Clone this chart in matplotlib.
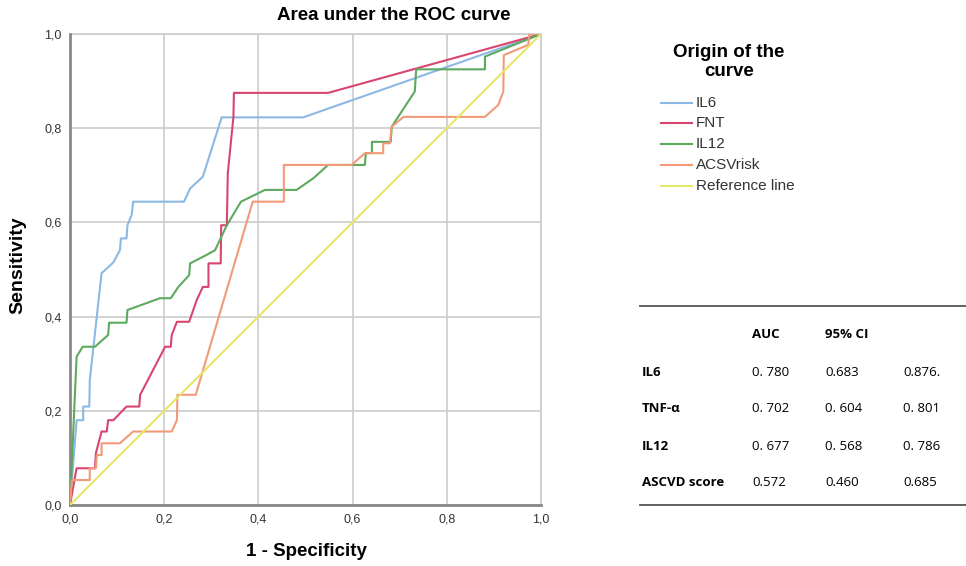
import matplotlib
matplotlib.use("Agg")
import matplotlib.pyplot as plt
from matplotlib.lines import Line2D

plt.rcParams['font.family'] = ['Liberation Sans', 'DejaVu Sans']

# ROC curves (1 - specificity, sensitivity)
il6_x = [0, 0.014, 0.028, 0.028, 0.041, 0.042, 0.067, 0.092, 0.106, 0.108, 0.12, 0.122,
         0.131, 0.134, 0.242, 0.255, 0.282, 0.322, 0.495, 1.0]
il6_y = [0, 0.18, 0.18, 0.209, 0.209, 0.265, 0.492, 0.515, 0.541, 0.566, 0.566, 0.594,
         0.616, 0.644, 0.644, 0.672, 0.697, 0.823, 0.823, 1.0]

fnt_x = [0, 0.014, 0.053, 0.055, 0.067, 0.078, 0.081, 0.092, 0.12, 0.147, 0.149, 0.202,
         0.214, 0.216, 0.227, 0.253, 0.269, 0.282, 0.294, 0.294, 0.32, 0.321, 0.333,
         0.335, 0.347, 0.348, 0.548, 1.0]
fnt_y = [0, 0.078, 0.078, 0.11, 0.156, 0.156, 0.18, 0.18, 0.209, 0.209, 0.234, 0.336,
         0.336, 0.361, 0.389, 0.389, 0.435, 0.463, 0.463, 0.513, 0.513, 0.594, 0.594,
         0.704, 0.824, 0.875, 0.875, 1.0]

il12_x = [0, 0.014, 0.027, 0.053, 0.081, 0.083, 0.12, 0.122, 0.191, 0.214, 0.23, 0.253,
          0.255, 0.29, 0.308, 0.333, 0.363, 0.414, 0.481, 0.517, 0.548, 0.626, 0.628,
          0.641, 0.641, 0.681, 0.683, 0.732, 0.735, 0.881, 0.881, 1.0]
il12_y = [0, 0.315, 0.336, 0.336, 0.361, 0.387, 0.387, 0.414, 0.439, 0.439, 0.463, 0.488,
          0.513, 0.531, 0.541, 0.594, 0.644, 0.669, 0.669, 0.694, 0.722, 0.722, 0.747,
          0.747, 0.771, 0.771, 0.803, 0.878, 0.925, 0.925, 0.952, 1.0]

acs_x = [0, 0.004, 0.042, 0.042, 0.055, 0.057, 0.067, 0.067, 0.106, 0.134, 0.216, 0.227,
         0.228, 0.267, 0.388, 0.454, 0.454, 0.598, 0.626, 0.665, 0.665, 0.679, 0.683,
         0.708, 0.881, 0.909, 0.92, 0.921, 0.973, 0.975, 1.0]
acs_y = [0, 0.053, 0.053, 0.078, 0.078, 0.106, 0.106, 0.131, 0.131, 0.156, 0.156, 0.18,
         0.234, 0.234, 0.644, 0.644, 0.722, 0.722, 0.747, 0.747, 0.768, 0.768, 0.803,
         0.824, 0.824, 0.849, 0.878, 0.955, 0.977, 1.0, 1.0]

ref_x = [0, 1]
ref_y = [0, 1]

series_names = ["IL6", "FNT", "IL12", "ACSVrisk", "Reference line"]
colors = ["#8cb8e4", "#d8466f", "#5da95d", "#f29a78", "#e6e66a"]

tick_vals = [0, 0.2, 0.4, 0.6, 0.8, 1.0]
tick_labels = ["0,0", "0,2", "0,4", "0,6", "0,8", "1,0"]

# table
row_labels = ["IL6", "TNF-α", "IL12", "ASCVD score"]
auc_vals = ["0. 780", "0. 702", "0. 677", "0.572"]
ci_low = ["0.683", "0. 604", "0. 568", "0.460"]
ci_high = ["0.876.", "0. 801", "0. 786", "0.685"]

W, H = 966, 566
fig = plt.figure(figsize=(W / 100, H / 100), dpi=100)
ax = fig.add_axes([70 / W, 1 - 505 / H, 471 / W, 471 / H])

curves = [(il6_x, il6_y), (fnt_x, fnt_y), (il12_x, il12_y), (acs_x, acs_y), (ref_x, ref_y)]
for (xs, ys), name, c in zip(curves, series_names, colors):
    ax.plot(xs, ys, color=c, lw=1.5, label=name, zorder=3)

ax.set_xlim(0, 1)
ax.set_ylim(0, 1)
ax.set_xticks(tick_vals)
ax.set_xticklabels(tick_labels)
ax.set_yticks(tick_vals)
ax.set_yticklabels(tick_labels)
ax.tick_params(length=0, labelsize=9, labelcolor="#333333", pad=6)
ax.grid(True, color="#cccccc", lw=1.2)
ax.set_axisbelow(True)
for s in ["top", "right"]:
    ax.spines[s].set_visible(False)
for s in ["left", "bottom"]:
    ax.spines[s].set_color("#888888")
    ax.spines[s].set_linewidth(2)
# grid line at 1.0 on the top and right edges
ax.axhline(1.0, color="#cccccc", lw=1.2, zorder=0, clip_on=False)
ax.axvline(1.0, color="#cccccc", lw=1.2, zorder=0, clip_on=False)

fig.text(394 / W, 1 - 15 / H, "Area under the ROC curve", ha="center", va="center",
         fontsize=13.5, fontweight="bold")
fig.text(306 / W, 1 - 552 / H, "1 - Specificity", ha="center", va="center",
         fontsize=13.5, fontweight="bold")
fig.text(18 / W, 1 - 265 / H, "Sensitivity", ha="center", va="center", rotation=90,
         fontsize=14, fontweight="bold")

# legend, laid out by hand
fig.text(729 / W, 1 - 62 / H, "Origin of the\ncurve", ha="center", va="center",
         fontsize=13.5, fontweight="bold", linespacing=1.15)
leg_y = [103, 123, 144, 165, 186]
for name, c, yy in zip(series_names, colors, leg_y):
    fig.add_artist(Line2D([661 / W, 692 / W], [1 - yy / H, 1 - yy / H], color=c, lw=1.5))
    fig.text(696 / W, 1 - yy / H, name, ha="left", va="center", fontsize=11, color="#333333")

# AUC table
fig.add_artist(Line2D([640 / W, 1], [1 - 306 / H, 1 - 306 / H], color="#555555", lw=1.3))
fig.add_artist(Line2D([640 / W, 1], [1 - 505 / H, 1 - 505 / H], color="#555555", lw=1.3))
tf = dict(fontsize=9.5, va="center", family=["Open Sans", "DejaVu Sans"])
fig.text(752 / W, 1 - 334 / H, "AUC", fontweight="bold", **tf)
fig.text(825 / W, 1 - 334 / H, "95% CI", fontweight="bold", **tf)
row_y = [373, 409, 446, 483]
for lab, a, lo, hi, yy in zip(row_labels, auc_vals, ci_low, ci_high, row_y):
    fig.text(642 / W, 1 - yy / H, lab, fontweight="bold", **tf)
    fig.text(752 / W, 1 - yy / H, a, **tf)
    fig.text(825 / W, 1 - yy / H, lo, **tf)
    fig.text(903 / W, 1 - yy / H, hi, **tf)

plt.savefig("out.png", dpi=100)
